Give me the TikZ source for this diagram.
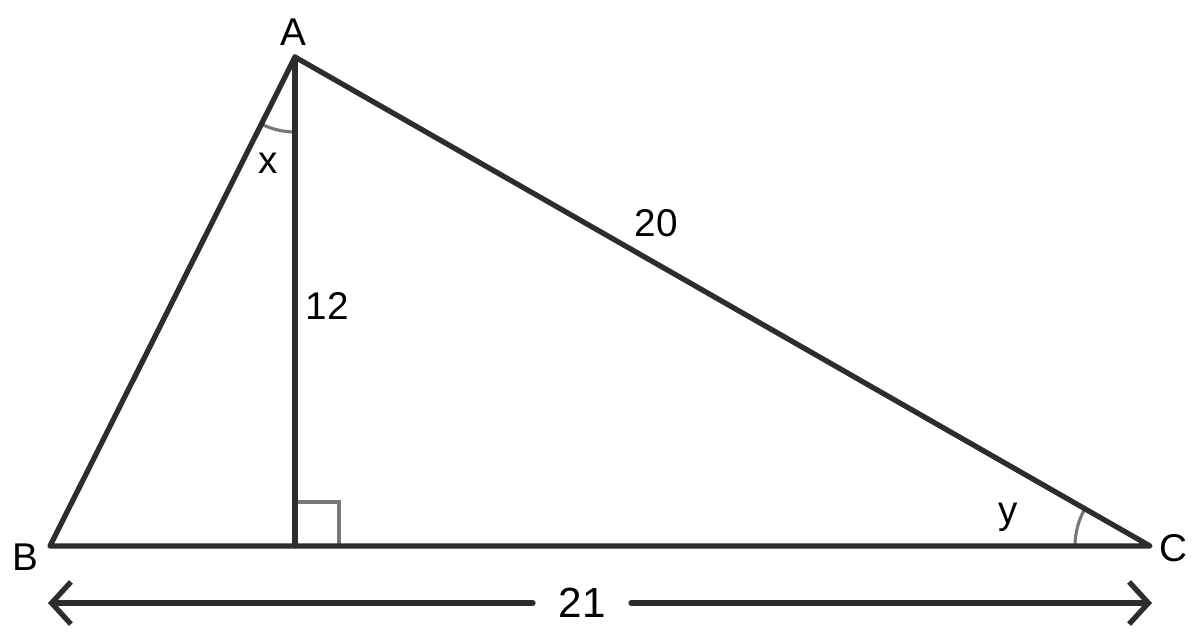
\documentclass[tikz,border=0pt]{standalone}
\usepackage{fontspec}
\setmainfont{Liberation Sans}
\usepackage{tikz}
\usetikzlibrary{arrows.meta,positioning,calc}
\definecolor{edgecolor}{RGB}{45,45,45}
\definecolor{markcolor}{RGB}{120,120,120}

\begin{document}
\begin{tikzpicture}[x=0.01cm, y=0.01cm,
    side/.style={line width=1.5pt, edgecolor, line cap=round, line join=round},
    anglemark/.style={line width=0.9pt, markcolor},
    lbl/.style={font=\fontsize{11}{13}\selectfont, text=black, inner sep=0pt}]
    \useasboundingbox (0,0) rectangle (1200,638);

    % Vertices
    \coordinate (A) at (295,581);
    \coordinate (B) at (50,92);
    \coordinate (C) at (1150,92);
    \coordinate (D) at (295,92);

    % Right angle at foot
    \draw[line width=1.2pt, markcolor] ($(D)+(0,44)$) -- ($(D)+(44,44)$) -- ($(D)+(44,0)$);

    % Angle arcs
    \draw[anglemark] ($(A)+(0,-75)$) arc (270:243.4:75);
    \draw[anglemark] ($(C)+(-75,0)$) arc (180:150.2:75);

    % Triangle and height
    \draw[side] (A) -- (B) -- (C) -- cycle;
    \draw[side] (A) -- (D);

    % Labels
    \node[lbl] (labA) at (293,606) {A};
    \node[lbl] (labB) at (25,81) {B};
    \node[lbl] (labC) at (1173,90) {C};
    \node[lbl] (lab20) at (656,415) {20};
    \node[lbl] (lab12) at (327,332) {12};
    \node[lbl] (labx) at (268,475) {x};
    \node[lbl] (laby) at (1008,121) {y};

    % Base length
    \node[lbl, font=\fontsize{12}{14}\selectfont] (lab21) at (582,35) {21};
    \coordinate (arrLs) at (533,35);
    \coordinate (arrRs) at (631,35);
    \coordinate (arrL) at (48,35);
    \coordinate (arrR) at (1152,35);
    \draw[side, -{Straight Barb[length=5.5pt, width=12pt, line width=1.5pt]}] (arrLs) -- (arrL);
    \draw[side, -{Straight Barb[length=5.5pt, width=12pt, line width=1.5pt]}] (arrRs) -- (arrR);

\end{tikzpicture}
\end{document}
